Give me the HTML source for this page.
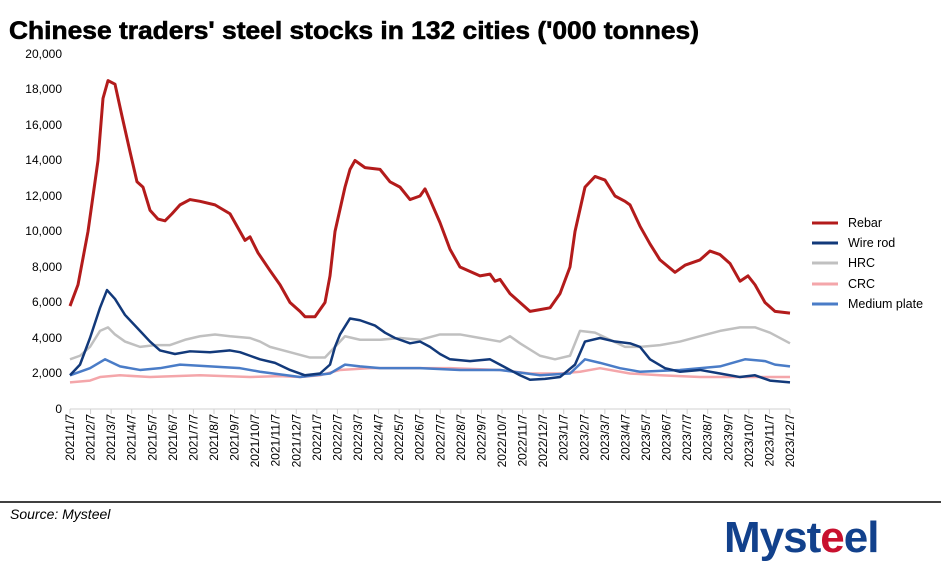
<!DOCTYPE html>
<html><head><meta charset="utf-8"><style>
body{margin:0;background:#fff;width:941px;height:571px;overflow:hidden;font-family:"Liberation Sans",Arial,sans-serif;}
</style></head><body>
<svg width="941" height="571" xmlns="http://www.w3.org/2000/svg" font-family="Liberation Sans, Arial, sans-serif">
<text x="9" y="39" font-size="25" font-weight="bold" fill="#000" textLength="690" lengthAdjust="spacingAndGlyphs" stroke="#000" stroke-width="0.6">Chinese traders' steel stocks in 132 cities ('000 tonnes)</text>
<g font-size="12" fill="#000" text-anchor="end">
<text x="62" y="413">0</text><text x="62" y="377">2,000</text><text x="62" y="342">4,000</text><text x="62" y="306">6,000</text><text x="62" y="271">8,000</text><text x="62" y="235">10,000</text><text x="62" y="200">12,000</text><text x="62" y="164">14,000</text><text x="62" y="129">16,000</text><text x="62" y="93">18,000</text><text x="62" y="58">20,000</text>
</g>
<line x1="70" y1="409" x2="790" y2="409" stroke="#d0d0d0" stroke-width="1"/>
<g id="ticks" stroke="#d0d0d0"></g>
<g id="labs" font-size="12" fill="#000"></g>
<g transform="translate(0,409) scale(1,-17.75)" fill="none" stroke-linejoin="round">
<polyline vector-effect="non-scaling-stroke" stroke="#f4a6aa" stroke-width="2.5" points="70,1.5 90,1.6 100,1.8 120,1.9 150,1.8 200,1.9 250,1.8 280,1.85 300,1.8 320,1.9 340,2.2 370,2.3 400,2.3 450,2.3 500,2.2 530,2 560,2 580,2.1 600,2.3 630,2 660,1.9 700,1.8 740,1.8 790,1.8"/>
<polyline vector-effect="non-scaling-stroke" stroke="#c0c0c0" stroke-width="2.5" points="70,2.8 80,3 90,3.5 100,4.4 108,4.6 115,4.2 125,3.8 140,3.5 155,3.6 170,3.6 185,3.9 200,4.1 215,4.2 230,4.1 250,4 260,3.8 270,3.5 290,3.2 310,2.9 325,2.9 335,3.5 345,4.1 360,3.9 380,3.9 400,4 420,3.9 440,4.2 460,4.2 480,4 500,3.8 510,4.1 520,3.7 540,3 555,2.8 570,3 580,4.4 595,4.3 610,3.9 625,3.5 640,3.5 660,3.6 680,3.8 700,4.1 720,4.4 740,4.6 755,4.6 770,4.3 790,3.7"/>
<polyline vector-effect="non-scaling-stroke" stroke="#4a7cc7" stroke-width="2.5" points="70,1.9 90,2.3 105,2.8 120,2.4 140,2.2 160,2.3 180,2.5 210,2.4 240,2.3 260,2.1 300,1.8 330,2 345,2.5 360,2.4 380,2.3 420,2.3 460,2.2 500,2.2 540,1.9 570,2 585,2.8 600,2.6 620,2.3 640,2.1 680,2.2 720,2.4 745,2.8 765,2.7 775,2.5 790,2.4"/>
<polyline vector-effect="non-scaling-stroke" stroke="#12397a" stroke-width="2.5" points="70,1.9 80,2.5 90,4 100,5.7 107,6.7 115,6.2 125,5.3 140,4.4 150,3.8 160,3.3 175,3.1 190,3.25 210,3.2 230,3.3 240,3.2 250,3 260,2.8 275,2.6 290,2.2 305,1.9 320,2 330,2.5 335,3.5 340,4.2 350,5.1 360,5 375,4.7 385,4.3 395,4 410,3.7 420,3.8 430,3.5 440,3.1 450,2.8 470,2.7 490,2.8 500,2.5 510,2.2 520,1.9 530,1.65 545,1.7 560,1.8 575,2.5 585,3.8 600,4 615,3.8 630,3.7 640,3.5 650,2.8 665,2.3 680,2.1 700,2.2 720,2 740,1.8 755,1.9 770,1.6 790,1.5"/>
<polyline vector-effect="non-scaling-stroke" stroke="#b31b1b" stroke-width="3" points="70,5.8 78,7 88,10 98,14 103,17.5 108,18.5 115,18.3 122,16.5 130,14.5 137,12.8 143,12.5 150,11.2 158,10.7 165,10.6 172,11 180,11.5 190,11.8 200,11.7 215,11.5 230,11 240,10 245,9.5 250,9.7 258,8.8 270,7.8 280,7 290,6 300,5.5 305,5.2 315,5.2 325,6 330,7.5 335,10 345,12.5 350,13.5 355,14 365,13.6 380,13.5 390,12.8 400,12.5 410,11.8 420,12 425,12.4 430,11.8 440,10.5 450,9 460,8 480,7.5 490,7.6 495,7.2 500,7.3 510,6.5 520,6 530,5.5 540,5.6 550,5.7 560,6.5 570,8 575,10 585,12.5 595,13.1 605,12.9 615,12 625,11.7 630,11.5 640,10.3 650,9.3 660,8.4 675,7.7 685,8.1 700,8.4 710,8.9 720,8.7 730,8.2 740,7.2 748,7.5 755,7 765,6 775,5.5 790,5.4"/>
</g>
<g font-size="12.5" fill="#000">
<line x1="812" y1="223" x2="838" y2="223" stroke="#b31b1b" stroke-width="3"/><text x="848" y="227">Rebar</text>
<line x1="812" y1="243" x2="838" y2="243" stroke="#12397a" stroke-width="3"/><text x="848" y="247">Wire rod</text>
<line x1="812" y1="263" x2="838" y2="263" stroke="#c0c0c0" stroke-width="3"/><text x="848" y="267">HRC</text>
<line x1="812" y1="284" x2="838" y2="284" stroke="#f4a6aa" stroke-width="3"/><text x="848" y="288">CRC</text>
<line x1="812" y1="304" x2="838" y2="304" stroke="#4a7cc7" stroke-width="3"/><text x="848" y="308">Medium plate</text>
</g>
<line x1="0" y1="502" x2="941" y2="502" stroke="#000" stroke-width="1.5"/>
<text x="10" y="519" font-size="14" font-style="italic" fill="#000">Source: Mysteel</text>
<text x="724" y="552" font-size="44" font-weight="bold" fill="#12418c" letter-spacing="-1">Myst<tspan fill="#c8102e">e</tspan>el</text>
</svg>
<script>
var t=document.getElementById('ticks'),l=document.getElementById('labs'),ns='http://www.w3.org/2000/svg';
for(var i=0;i<36;i++){var x=70+i*720/35;var y=2021+Math.floor(i/12),m=i%12+1;
var ln=document.createElementNS(ns,'line');ln.setAttribute('x1',x);ln.setAttribute('x2',x);ln.setAttribute('y1',409);ln.setAttribute('y2',414);t.appendChild(ln);
var tx=document.createElementNS(ns,'text');tx.setAttribute('transform','translate('+(x+4)+',414) rotate(-90)');tx.setAttribute('text-anchor','end');tx.textContent=y+'/'+m+'/7';l.appendChild(tx);}
</script>
</body></html>
